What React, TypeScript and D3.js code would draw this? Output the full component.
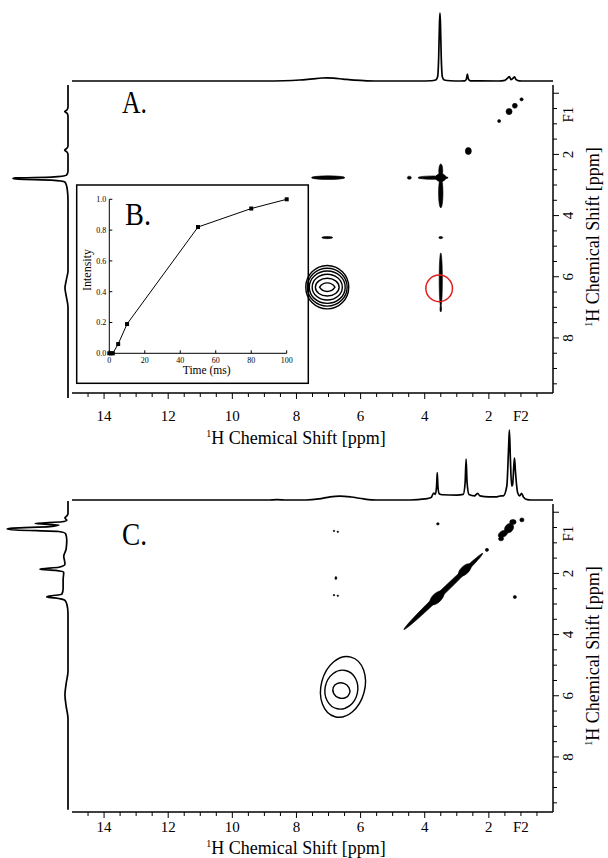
import React from "react";
import * as d3 from "d3";

// ---------------- data ----------------
const F2_DOMAIN: [number, number] = [15, 0];
const F1_DOMAIN: [number, number] = [-0.4, 9.8];
const f2LabelTicks = [14, 12, 10, 8, 6, 4, 2];
const f1LabelTicks = [2, 4, 6, 8];
const axisTitleRest = "H Chemical Shift [ppm]";

// 1D projections: [ppm, relative intensity]
const topProjA: [number, number][] = [
  [15, 0], [9.0, 0], [8.4, 0.004], [7.9, 0.015], [7.5, 0.032], [7.2, 0.044], [7.05, 0.046], [6.85, 0.042],
  [6.55, 0.028], [6.2, 0.012], [5.8, 0.003], [5.3, 0], [4.2, 0], [3.8, 0.004], [3.66, 0.015], [3.6, 0.06],
  [3.565, 0.35], [3.54, 0.85], [3.525, 1.0], [3.51, 0.85], [3.485, 0.35], [3.45, 0.06], [3.39, 0.015],
  [3.2, 0.004], [2.9, 0], [2.75, 0.002], [2.7, 0.03], [2.67, 0.1], [2.64, 0.03], [2.58, 0.002], [1.7, 0],
  [1.5, 0.01], [1.4, 0.05], [1.36, 0.065], [1.31, 0.02], [1.25, 0.04], [1.2, 0.06], [1.15, 0.02],
  [1.05, 0.003], [0.9, 0], [0, 0],
];
const leftProjA: [number, number][] = [
  [-0.27, 0], [0.45, 0], [0.55, 0.02], [0.6, 0.06], [0.65, 0.02], [0.75, 0], [1.72, 0], [1.8, 0.02],
  [1.86, 0.06], [1.92, 0.02], [2.0, 0], [2.55, 0], [2.68, 0.03], [2.74, 0.3], [2.77, 0.95], [2.79, 1.0],
  [2.81, 0.9], [2.84, 0.3], [2.9, 0.06], [3.0, 0.03], [3.2, 0.01], [3.5, 0], [5.8, 0], [6.1, 0.03],
  [6.37, 0.055], [6.65, 0.03], [7.0, 0], [9.96, 0],
];
const topProjC: [number, number][] = [
  [15, 0], [8.9, 0], [8.6, 0.005], [8.3, 0], [7.7, 0], [7.3, 0.015], [6.95, 0.045], [6.65, 0.055],
  [6.3, 0.043], [5.9, 0.015], [5.5, 0], [4.45, 0], [4.0, 0.015], [3.8, 0.035], [3.72, 0.1], [3.67, 0.08],
  [3.63, 0.2], [3.61, 0.39], [3.59, 0.2], [3.55, 0.09], [3.45, 0.075], [3.0, 0.07], [2.8, 0.08],
  [2.74, 0.25], [2.71, 0.585], [2.68, 0.25], [2.62, 0.08], [2.45, 0.06], [2.35, 0.095], [2.28, 0.06],
  [2.0, 0.045], [1.75, 0.045], [1.62, 0.06], [1.55, 0.06], [1.44, 0.2], [1.38, 0.8], [1.36, 1.0],
  [1.33, 0.6], [1.29, 0.2], [1.26, 0.22], [1.22, 0.5], [1.2, 0.6], [1.17, 0.4], [1.1, 0.1], [1.04, 0.06],
  [0.98, 0.095], [0.92, 0.04], [0.8, 0.005], [0.7, 0], [0, 0],
];
const leftProjC: [number, number][] = [
  [-0.37, 0], [0.05, 0], [0.12, 0.02], [0.19, 0.05], [0.26, 0.02], [0.31, 0.1], [0.37, 0.54], [0.42, 0.15],
  [0.47, 0.3], [0.52, 0.9], [0.55, 1.0], [0.58, 0.85], [0.63, 0.15], [0.7, 0.04], [0.9, 0.02], [1.2, 0.03],
  [1.45, 0.07], [1.55, 0.06], [1.7, 0.05], [1.8, 0.15], [1.86, 0.46], [1.9, 0.2], [1.97, 0.07], [2.2, 0.08],
  [2.5, 0.08], [2.68, 0.1], [2.74, 0.3], [2.77, 0.35], [2.8, 0.22], [2.88, 0.05], [3.0, 0.02], [3.3, 0],
  [5.2, 0], [5.6, 0.03], [5.97, 0.05], [6.35, 0.03], [6.74, 0], [9.73, 0],
];

// 2D cross peaks: [F2 ppm, F1 ppm, half-width F2 (ppm), half-width F1 (ppm), tilt deg]
const spotsA: number[][] = [
  [0.98, 0.2, 0.05, 0.05, 0], [1.19, 0.41, 0.078, 0.08, 0], [1.37, 0.6, 0.094, 0.1, 0],
  [1.68, 0.91, 0.047, 0.05, 0], [2.64, 1.89, 0.094, 0.115, 0],
  [3.5, 2.76, 0.16, 0.13, 0], [3.74, 2.76, 0.47, 0.056, 0], [3.5, 2.54, 0.062, 0.23, 0],
  [3.5, 3.26, 0.069, 0.49, 0], [4.48, 2.76, 0.062, 0.05, 0],
  [7.01, 2.76, 0.52, 0.06, 0], [7.04, 4.72, 0.17, 0.035, 0], [3.5, 4.72, 0.062, 0.035, 0],
  [3.5, 6.1, 0.05, 0.88, 0], [3.5, 7.05, 0.025, 0.1, 0],
];
const ringsA: number[][] = [
  [7.04, 6.34, 0.24, 0.14, 0], [7.04, 6.34, 0.37, 0.29, 0], [7.04, 6.34, 0.47, 0.42, 0],
  [7.04, 6.34, 0.56, 0.53, 0], [7.04, 6.34, 0.62, 0.62, 0], [7.04, 6.34, 0.67, 0.71, 0],
];
const circledPeakA = [3.55, 6.38];

const spotsC: number[][] = [
  [3.42, 2.59, 1.71, 0.085, -44], [3.62, 2.8, 0.28, 0.15, -44], [2.75, 1.89, 0.25, 0.13, -44],
  [2.06, 1.23, 0.05, 0.05, 0],
  [1.56, 0.71, 0.16, 0.1, -30], [1.37, 0.52, 0.16, 0.13, -50], [1.25, 0.32, 0.1, 0.08, 0],
  [1.62, 0.87, 0.08, 0.065, 0], [0.97, 0.25, 0.065, 0.065, 0],
  [3.59, 0.38, 0.04, 0.04, 0], [1.19, 2.77, 0.05, 0.05, 0],
  [6.83, 0.61, 0.025, 0.025, 0], [6.71, 0.64, 0.025, 0.025, 0],
  [6.77, 2.15, 0.03, 0.05, 0], [6.83, 2.71, 0.025, 0.025, 0], [6.71, 2.73, 0.025, 0.025, 0],
];
const ringsC: number[][] = [
  [6.6, 5.83, 0.27, 0.25, 20], [6.6, 5.8, 0.51, 0.64, 12], [6.55, 5.71, 0.68, 1.01, 15],
];

// Inset B: build-up curve
const mixTimeMs = [0, 1, 2, 5, 10, 50, 80, 100];
const mixIntensity = [0, 0, 0, 0.06, 0.19, 0.82, 0.94, 1.0];
const timeTicks = [0, 20, 40, 60, 80, 100];
const intensityTicks = [0, 0.2, 0.4, 0.6, 0.8, 1.0];

// ---------------- layout ----------------
const FONT = "'Liberation Serif', 'Times New Roman', Times, serif";
const X0 = 72;
const X1 = 553;
const BASE_X = 68;

type PanelCfg = {
  top: number;
  bottom: number;
  letter: string;
  letterY: number;
  topProj: [number, number][];
  leftProj: [number, number][];
  topPeakPx: number;
  leftPeakPx: number;
  spots: number[][];
  rings: number[][];
  tickY: number;
  titleY: number;
  inset?: boolean;
  circle?: number[];
};

function Inset() {
  const tx = d3.scaleLinear().domain([0, 100]).range([109.3, 286.7]);
  const ty = d3.scaleLinear().domain([0, 1]).range([353.3, 199.3]);
  const line = d3
    .line<number>()
    .x((_, i) => tx(mixTimeMs[i]))
    .y((d) => ty(d));
  return (
    <g>
      <rect x={76.7} y={185} width={231.6} height={198.3} fill="#fff" stroke="#000" strokeWidth={1.5} />
      <line x1={tx(0)} x2={tx(0)} y1={ty(0)} y2={ty(1)} stroke="#000" strokeWidth={1} />
      <line x1={tx(0)} x2={tx(100)} y1={ty(0)} y2={ty(0)} stroke="#000" strokeWidth={1} />
      {intensityTicks.map((v) => (
        <g key={"it" + v}>
          <line x1={tx(0)} x2={tx(0) + 3} y1={ty(v)} y2={ty(v)} stroke="#000" strokeWidth={1} />
          <text x={tx(0) - 3} y={ty(v) + 2.8} fontSize={8} textAnchor="end" fontFamily={FONT}>
            {v.toFixed(1)}
          </text>
        </g>
      ))}
      {timeTicks.map((v) => (
        <g key={"tt" + v}>
          <line x1={tx(v)} x2={tx(v)} y1={ty(0)} y2={ty(0) - 3} stroke="#000" strokeWidth={1} />
          <text x={tx(v)} y={ty(0) + 10} fontSize={8} textAnchor="middle" fontFamily={FONT}>
            {v}
          </text>
        </g>
      ))}
      <path d={line(mixIntensity) || ""} fill="none" stroke="#000" strokeWidth={1} />
      {mixIntensity.map((v, i) => (
        <rect key={"m" + i} x={tx(mixTimeMs[i]) - 2} y={ty(v) - 2} width={4} height={4} fill="#000" />
      ))}
      <text x={206.7} y={374} fontSize={11.5} textAnchor="middle" fontFamily={FONT}>
        Time (ms)
      </text>
      <text transform="translate(91,270) rotate(-90)" fontSize={12} textAnchor="middle" fontFamily={FONT}>
        Intensity
      </text>
      <text x={125} y={225} fontSize={31} fontFamily={FONT} textLength={26} lengthAdjust="spacingAndGlyphs">
        B.
      </text>
    </g>
  );
}

function Panel({ cfg }: { cfg: PanelCfg }) {
  const x = d3.scaleLinear().domain(F2_DOMAIN).range([X0, X1]);
  const y = d3.scaleLinear().domain(F1_DOMAIN).range([cfg.top, cfg.bottom]);
  const pxX = Math.abs(x(1) - x(0));
  const pxY = Math.abs(y(1) - y(0));
  const topY = d3.scaleLinear().domain([0, 1]).range([cfg.top, cfg.top - cfg.topPeakPx]);
  const leftX = d3.scaleLinear().domain([0, 1]).range([BASE_X, BASE_X - cfg.leftPeakPx]);
  const topLine = d3
    .line<[number, number]>()
    .x((d) => x(d[0]))
    .y((d) => topY(d[1]))
    .curve(d3.curveMonotoneX);
  const leftLine = d3
    .line<[number, number]>()
    .x((d) => leftX(d[1]))
    .y((d) => y(d[0]))
    .curve(d3.curveMonotoneY);

  const ell = (s: number[], key: string, filled: boolean) => {
    const cx = x(s[0]);
    const cy = y(s[1]);
    const rx = s[2] * pxX;
    const ry = s[3] * pxY;
    const rot = `rotate(${s[4] || 0} ${cx} ${cy})`;
    if (!filled && ry / rx < 0.65) {
      // flat inner contour: lens shape, pointed along F2
      const R = (rx * rx + ry * ry) / (2 * ry);
      const d = `M${cx - rx},${cy} A${R},${R} 0 0 1 ${cx + rx},${cy} A${R},${R} 0 0 1 ${cx - rx},${cy} Z`;
      return <path key={key} d={d} transform={rot} fill="none" stroke="#000" strokeWidth={1.4} />;
    }
    return (
      <ellipse
        key={key}
        cx={cx}
        cy={cy}
        rx={rx}
        ry={ry}
        transform={rot}
        fill={filled ? "#000" : "none"}
        stroke="#000"
        strokeWidth={filled ? 0.6 : 1.4}
      />
    );
  };

  const f2Minor = d3.range(1, 30).map((i) => i * 0.5);
  const f1Minor = d3.range(0, 20).map((i) => i * 0.5);
  const midY = (cfg.top + cfg.bottom) / 2;

  return (
    <g>
      {/* projections */}
      <path d={topLine(cfg.topProj) || ""} fill="none" stroke="#000" strokeWidth={1.7} />
      <path d={leftLine(cfg.leftProj) || ""} fill="none" stroke="#000" strokeWidth={1.7} />

      {/* bottom axis */}
      <line x1={X0} x2={X1} y1={cfg.bottom} y2={cfg.bottom} stroke="#000" strokeWidth={1.5} />
      {f2Minor.map((v) => {
        const major = Math.abs(v % 2) < 1e-6;
        return (
          <line key={"bx" + v} x1={x(v)} x2={x(v)} y1={cfg.bottom} y2={cfg.bottom + (major ? 6 : 4)} stroke="#000" strokeWidth={1} />
        );
      })}
      {f2LabelTicks.map((v) => (
        <text key={"bl" + v} x={x(v)} y={cfg.tickY} fontSize={15} textAnchor="middle" fontFamily={FONT}>
          {v}
        </text>
      ))}
      <text x={x(1)} y={cfg.tickY} fontSize={15} textAnchor="middle" fontFamily={FONT}>
        F2
      </text>
      <text x={296} y={cfg.titleY} fontSize={18} textAnchor="middle" fontFamily={FONT}>
        <tspan fontSize={10} dy={-7}>1</tspan>
        <tspan dy={7}>{axisTitleRest}</tspan>
      </text>

      {/* right axis */}
      <line x1={X1} x2={X1} y1={cfg.top + 4} y2={cfg.bottom} stroke="#000" strokeWidth={1.5} />
      {f1Minor.map((v) => {
        const major = Math.abs(v % 2) < 1e-6;
        return (
          <line key={"ry" + v} x1={X1} x2={X1 + (major ? 6 : 4)} y1={y(v)} y2={y(v)} stroke="#000" strokeWidth={1} />
        );
      })}
      {f1LabelTicks.map((v) => (
        <text key={"rl" + v} transform={`translate(573,${y(v)}) rotate(-90)`} fontSize={15} textAnchor="middle" fontFamily={FONT}>
          {v}
        </text>
      ))}
      <text transform={`translate(573,${y(0.7)}) rotate(-90)`} fontSize={15} textAnchor="middle" fontFamily={FONT}>
        F1
      </text>
      <text transform={`translate(599,${midY}) rotate(-90)`} fontSize={18} textAnchor="middle" fontFamily={FONT}>
        <tspan fontSize={10} dy={-7}>1</tspan>
        <tspan dy={7}>{axisTitleRest}</tspan>
      </text>

      {/* 2D peaks */}
      {cfg.spots.map((s, i) => ell(s, "s" + i, true))}
      {cfg.inset && <Inset />}
      {cfg.rings.map((s, i) => ell(s, "r" + i, false))}
      {cfg.circle && (
        <circle cx={x(cfg.circle[0])} cy={y(cfg.circle[1])} r={13.3} fill="none" stroke="#e02020" strokeWidth={1.5} />
      )}

      <text x={122} y={cfg.letterY} fontSize={31} fontFamily={FONT} textLength={25} lengthAdjust="spacingAndGlyphs">
        {cfg.letter}
      </text>
    </g>
  );
}

export default function App() {
  const panelA: PanelCfg = {
    top: 81,
    bottom: 393,
    letter: "A.",
    letterY: 113,
    topProj: topProjA,
    leftProj: leftProjA,
    topPeakPx: 68,
    leftPeakPx: 55,
    spots: spotsA,
    rings: ringsA,
    tickY: 421,
    titleY: 444,
    inset: true,
    circle: circledPeakA,
  };
  const panelC: PanelCfg = {
    top: 500,
    bottom: 812,
    letter: "C.",
    letterY: 545,
    topProj: topProjC,
    leftProj: leftProjC,
    topPeakPx: 70,
    leftPeakPx: 61,
    spots: spotsC,
    rings: ringsC,
    tickY: 832,
    titleY: 854,
  };
  return (
    <svg
      width={608}
      height={858}
      viewBox="0 0 608 858"
      style={{ position: "absolute", left: 0, top: 0, display: "block", background: "#fff" }}
    >
      <rect x={0} y={0} width={608} height={858} fill="#fff" />
      <Panel cfg={panelA} />
      <Panel cfg={panelC} />
    </svg>
  );
}
